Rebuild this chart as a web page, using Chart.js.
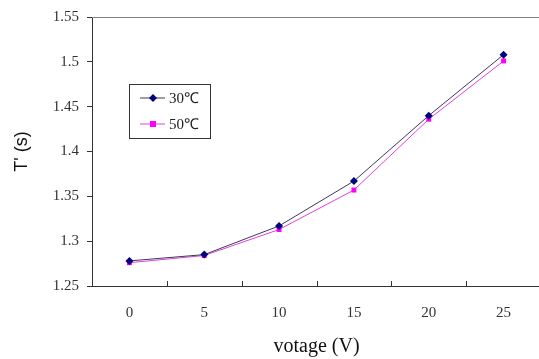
<!DOCTYPE html>
<html lang="en">
<head>
  <meta charset="UTF-8">
  <title>T' vs votage</title>
  <script src="https://cdn.jsdelivr.net/npm/chart.js@4.4.0/dist/chart.umd.min.js"></script>
  <style>
    html, body { margin: 0; padding: 0; background: #fff; overflow: hidden; }
    .wrap { width: 545px; height: 359px; position: relative; }
  </style>
</head>
<body>
  <div class="wrap">
    <canvas id="plot"></canvas>
  </div>

  <script>
    const voltages = ['0', '5', '10', '15', '20', '25'];
    const t30 = [1.278, 1.285, 1.317, 1.367, 1.440, 1.508];
    const t50 = [1.276, 1.284, 1.313, 1.357, 1.436, 1.501];
    const seriesNames = ['30℃', '50℃'];

    // legend box drawn inside the plot, tick marks pointing inward, top border
    const extras = {
      id: 'extras',
      afterDraw(chart) {
        const ctx = chart.ctx;
        const area = chart.chartArea;
        const x = chart.scales.x;
        ctx.save();
        // top border
        ctx.strokeStyle = '#808080';
        ctx.lineWidth = 1;
        ctx.beginPath();
        ctx.moveTo(area.left, area.top + 0.5);
        ctx.lineTo(area.right, area.top + 0.5);
        ctx.stroke();
        // inward tick marks between categories
        ctx.strokeStyle = '#333';
        const half = (x.getPixelForValue(1) - x.getPixelForValue(0)) / 2;
        for (let i = 0; i < voltages.length - 1; i++) {
          const px = Math.round(x.getPixelForValue(i) + half) + 0.5;
          ctx.beginPath();
          ctx.moveTo(px, area.bottom);
          ctx.lineTo(px, area.bottom - 5);
          ctx.stroke();
        }
        // legend
        const lx = area.left + 37, ly = area.top + 67;
        ctx.strokeStyle = '#333';
        ctx.strokeRect(lx + 0.5, ly + 0.5, 81, 54);
        ctx.font = '15px "Liberation Serif", serif';
        ctx.textBaseline = 'middle';
        chart.data.datasets.forEach((ds, i) => {
          const y = ly + 14 + i * 26;
          ctx.strokeStyle = ds.borderColor;
          ctx.beginPath();
          ctx.moveTo(lx + 11, y);
          ctx.lineTo(lx + 36, y);
          ctx.stroke();
          ctx.fillStyle = ds.pointBackgroundColor;
          const cx = lx + 24;
          if (ds.pointStyle === 'rect') {
            ctx.fillRect(cx - 3, y - 3, 6, 6);
          } else {
            ctx.beginPath();
            ctx.moveTo(cx, y - 4);
            ctx.lineTo(cx + 4, y);
            ctx.lineTo(cx, y + 4);
            ctx.lineTo(cx - 4, y);
            ctx.closePath();
            ctx.fill();
          }
          ctx.fillStyle = '#222';
          ctx.fillText(ds.label, lx + 40, y + 1);
        });
        ctx.restore();
      }
    };

    const data = {
      labels: voltages,
      datasets: [{
        label: seriesNames[0],
        data: t30,
        borderColor: '#3a3a5a',
        borderWidth: 1,
        pointStyle: 'rectRot',
        radius: 4,
        pointBackgroundColor: '#000080',
        pointBorderColor: '#000080',
        pointBorderWidth: 0
      }, {
        label: seriesNames[1],
        data: t50,
        borderColor: '#e040e0',
        borderWidth: 1,
        pointStyle: 'rect',
        radius: 3.5,
        pointBackgroundColor: '#ff00ff',
        pointBorderColor: '#ff00ff',
        pointBorderWidth: 0
      }]
    };

    const config = {
      type: 'line',
      data,
      plugins: [extras],
      options: {
        responsive: true,
        maintainAspectRatio: false,
        animation: false,
        layout: { padding: { top: 16, right: 3, left: 0, bottom: 0 } },
        plugins: {
          legend: { display: false },
          tooltip: { enabled: false }
        },
        scales: {
          x: {
            type: 'category',
            offset: true,
            grid: { display: false, drawTicks: false },
            border: { color: '#333', width: 1 },
            ticks: {
              padding: 18,
              color: '#333',
              font: { family: '"Liberation Serif", serif', size: 15 }
            },
            title: {
              display: true,
              text: 'votage (V)',
              color: '#111',
              font: { family: '"Liberation Serif", serif', size: 20 },
              padding: { top: 4, bottom: 0 }
            },
            afterFit: s => { s.height = 73; }
          },
          y: {
            min: 1.25,
            max: 1.55,
            grid: { drawOnChartArea: false, tickLength: 5, color: '#333' },
            border: { color: '#333', width: 1 },
            ticks: {
              stepSize: 0.05,
              padding: 8,
              color: '#333',
              font: { family: '"Liberation Serif", serif', size: 15 },
              callback: v => String(Number(v.toFixed(2)))
            },
            title: {
              display: true,
              text: "T' (s)",
              color: '#111',
              font: { family: 'Arial, "Liberation Sans", sans-serif', size: 18 },
              padding: { top: 11, bottom: 0 }
            },
            afterFit: s => { s.width = 92; }
          }
        }
      }
    };

    const plot = new Chart(document.getElementById('plot'), config);
  </script>
</body>
</html>
